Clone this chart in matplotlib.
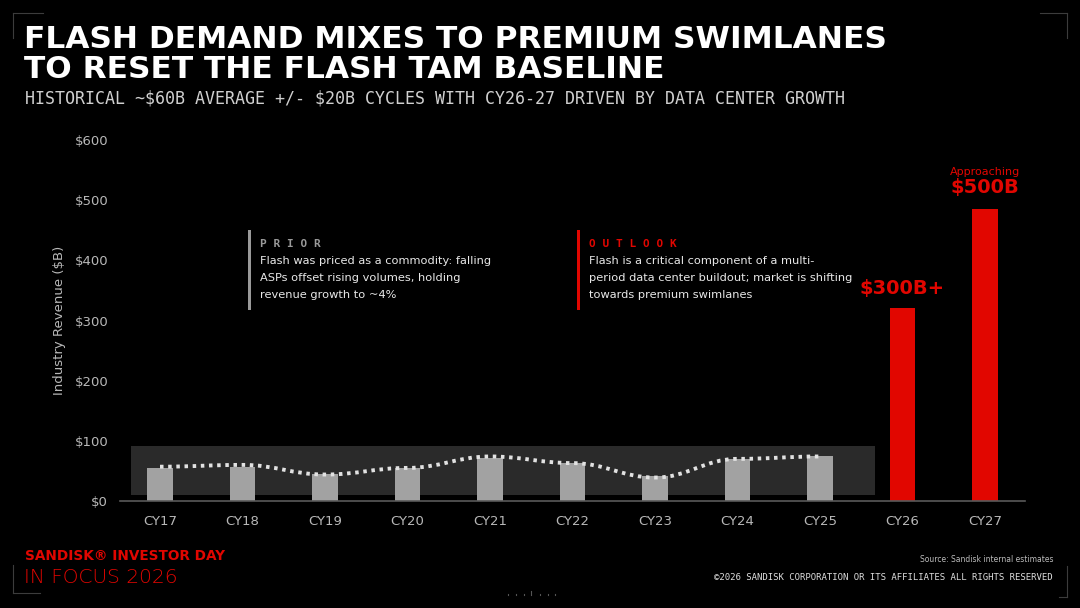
import numpy as np
import matplotlib
matplotlib.use('Agg')
import matplotlib.pyplot as plt
from matplotlib.path import Path
from matplotlib.patches import PathPatch, Rectangle

# ---- data ----
years = ['CY17', 'CY18', 'CY19', 'CY20', 'CY21', 'CY22', 'CY23', 'CY24', 'CY25', 'CY26', 'CY27']
revenue = [55, 57, 45, 55, 72, 63, 41, 70, 75, 320, 485]
trend = [57, 60, 44, 55, 74, 63, 39, 70, 74]          # dotted line over the historical years
band_low, band_high = 10, 92                         # historical range band
y_ticks = [0, 100, 200, 300, 400, 500, 600]
n_hist = 9

RED = '#e10600'
GREY_BAR = '#a2a2a2'
TXT = '#b8b8b8'

fig = plt.figure(figsize=(10.8, 6.08), dpi=100, facecolor='black')
W, H = 1080, 608


def fx(px):
    return px / W


def fy(py):
    return 1 - py / H


ax = fig.add_axes([fx(120), fy(501), fx(1025) - fx(120), fy(140) - fy(501)])
ax.set_facecolor('black')

x = np.arange(len(years))
colors = [GREY_BAR] * n_hist + [RED] * (len(years) - n_hist)
ax.add_patch(Rectangle((-0.35, band_low), 9.02, band_high - band_low,
                       facecolor='#2a2a2a', edgecolor='none', zorder=1))
ax.bar(x, revenue, width=0.31, color=colors, zorder=2)

# smooth dotted trend line (cubic bezier segments through the points)
pts = np.column_stack([x[:n_hist], trend])
verts = [tuple(pts[0])]
codes = [Path.MOVETO]
for i in range(len(pts) - 1):
    p0, p1 = pts[i], pts[i + 1]
    d = (p1[0] - p0[0]) / 2.5
    verts += [(p0[0] + d, p0[1]), (p1[0] - d, p1[1]), tuple(p1)]
    codes += [Path.CURVE4] * 3
ax.add_patch(PathPatch(Path(verts, codes), facecolor='none', edgecolor='#e2e2e2',
                       lw=2.8, linestyle=(0, (0.9, 1.2)), capstyle='butt', zorder=3))

ax.set_xlim(-0.485, len(years) - 1 + 0.485)
ax.set_ylim(0, 600)
ax.set_yticks(y_ticks)
ax.set_yticklabels([f'${v}' for v in y_ticks])
ax.set_xticks(x)
ax.set_xticklabels(years)
ax.tick_params(length=0, colors=TXT, labelsize=9.5)
ax.tick_params(axis='y', pad=8.5)
ax.tick_params(axis='x', pad=10)
for s in ['top', 'right', 'left']:
    ax.spines[s].set_visible(False)
ax.spines['bottom'].set_color('#5a5a5a')
ax.spines['bottom'].set_linewidth(1.2)
ax.set_ylabel('Industry Revenue ($B)', color=TXT, fontsize=9.5)
ax.yaxis.set_label_coords(-0.0597, 0.5)

# value callouts
ax.text(x[9], 338, '$300B+', color=RED, fontsize=14, fontweight='bold', ha='center', va='bottom')
ax.text(x[10], 506, '$500B', color=RED, fontsize=14, fontweight='bold', ha='center', va='bottom')
ax.text(x[10], 538, 'Approaching', color=RED, fontsize=8, ha='center', va='bottom')

# titles
fig.text(fx(24), fy(40), 'FLASH DEMAND MIXES TO PREMIUM SWIMLANES', color='white',
         fontsize=22.5, fontweight='heavy', va='center', ha='left')
fig.text(fx(24), fy(70), 'TO RESET THE FLASH TAM BASELINE', color='white',
         fontsize=22.5, fontweight='heavy', va='center', ha='left')
fig.text(fx(25), fy(99), r'HISTORICAL ~\$60B AVERAGE +/- \$20B CYCLES WITH CY26-27 DRIVEN BY DATA CENTER GROWTH',
         color='#d0d0d0', fontsize=12, family='DejaVu Sans Mono', va='center', ha='left')

# PRIOR / OUTLOOK notes
for bx, col, head, body in [
    (249, '#9a9a9a', 'P R I O R',
     'Flash was priced as a commodity: falling\nASPs offset rising volumes, holding\nrevenue growth to ~4%'),
    (578, RED, 'O U T L O O K',
     'Flash is a critical component of a multi-\nperiod data center buildout; market is shifting\ntowards premium swimlanes'),
]:
    fig.add_artist(Rectangle((fx(bx - 1.5), fy(310)), fx(3), fy(230) - fy(310),
                             transform=fig.transFigure, facecolor=col, edgecolor='none'))
    fig.text(fx(bx + 11), fy(244), head, color=col, fontsize=8, family='DejaVu Sans Mono',
             fontweight='bold', va='center', ha='left')
    fig.text(fx(bx + 11), fy(256.5), body, color='#e8e8e8', fontsize=8.2, va='top', ha='left',
             linespacing=1.82)

# footer
fig.text(fx(25), fy(560), 'SANDISK\u00ae INVESTOR DAY', color=RED, fontsize=9.8,
         fontweight='bold', va='baseline', ha='left')
fig.text(fx(24), fy(583), 'IN FOCUS 2026', color=RED, fontsize=14.5, fontweight='ultralight',
         va='baseline', ha='left')
fig.text(fx(1053), fy(559), 'Source: Sandisk internal estimates', color='#bbbbbb', fontsize=5.5,
         va='center', ha='right')
fig.text(fx(1053), fy(578), '\u00a92026 SANDISK CORPORATION OR ITS AFFILIATES ALL RIGHTS RESERVED',
         color='#dddddd', fontsize=6.5, family='DejaVu Sans Mono', va='center', ha='right')

# corner brackets
for (cx, cy, hx, vy) in [(13, 13, 30, 25), (1067, 13, -27, 25), (13, 593, 27, -28), (1067, 597, -8, -31)]:
    fig.add_artist(plt.Line2D([fx(cx), fx(cx + hx)], [fy(cy), fy(cy)],
                              transform=fig.transFigure, color='#3c3c3c', lw=0.8))
    fig.add_artist(plt.Line2D([fx(cx), fx(cx)], [fy(cy), fy(cy + vy)],
                              transform=fig.transFigure, color='#3c3c3c', lw=0.8))

# small page marks at bottom centre
for px in [508, 516, 524, 531, 540, 548, 555]:
    h = 4 if px == 531 else 1.5
    fig.add_artist(plt.Line2D([fx(px), fx(px)], [fy(595), fy(595 - h)],
                              transform=fig.transFigure, color='#555555', lw=0.8))

fig.savefig('out.png', dpi=100, facecolor='black')
